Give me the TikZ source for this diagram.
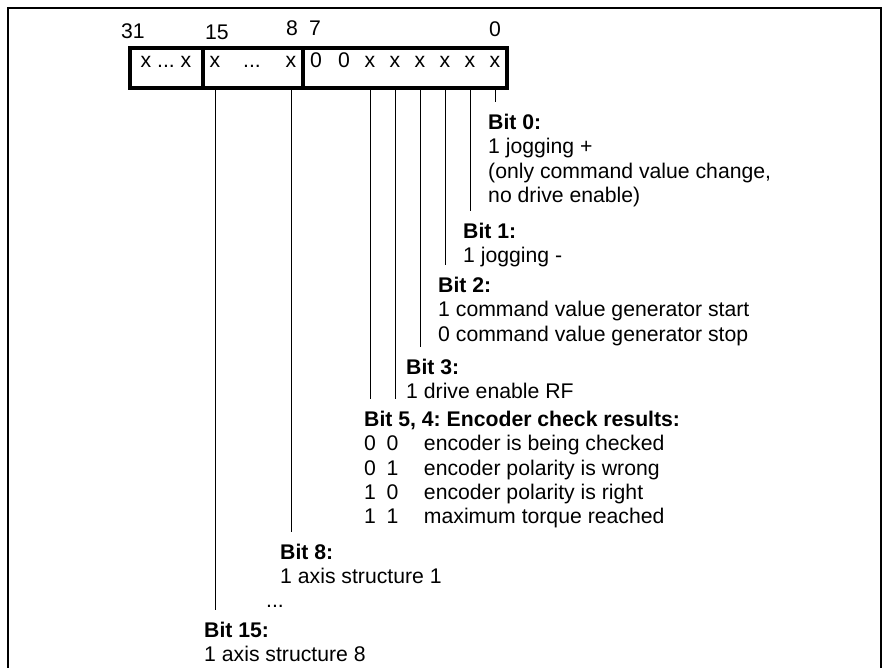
\documentclass[tikz,border=0pt]{standalone}
\usepackage{fontspec}
\setmainfont{Liberation Sans}
\usetikzlibrary{positioning}
\frenchspacing

\begin{document}
\begin{tikzpicture}[
  x=0.03cm, y=-0.03cm,
  every node/.style={font=\fontsize{18.1pt}{20.8pt}\selectfont},
  regcell/.style={draw, line width=2.6pt, rectangle, minimum height=1.2cm, inner sep=0pt},
  digit/.style={anchor=base, inner sep=0pt},
  bitlabel/.style={anchor=north west, align=left, inner xsep=0pt, inner ysep=10pt},
  leader/.style={line width=0.85pt}
]
\useasboundingbox (0,0) rectangle (882,668);

% ===== Outer frame (bottom edge lies below the page) =====
\draw[line width=2.2pt] (8,680) -- (8,8) -- (881,8) -- (881,680);

% ===== Register cells =====
\node[regcell, minimum width=2.19cm] (c31) at (166.5,68) {};
\node[regcell, minimum width=3.0cm] (c15) at (253,68) {};
\node[regcell, minimum width=6.12cm] (c7) at (405,68) {};

% Bit numbers above the cells
\node[digit] (n31) at (133,38) {31};
\node[digit] (n15) at (217,39.5) {15};
\node[digit] (n8) at (292,35) {8};
\node[digit] (n7) at (315,35) {7};
\node[digit] (n0) at (495,36) {0};

% Cell contents
\node[digit] (d31) at (166,67) {x ... x};
\node[digit] (d15) at (215,67) {x};
\node[digit] (dots15) at (252,67) {...};
\node[digit] (d8) at (291,67) {x};
\foreach \name/\x/\v in {d7/316/0, d6/344/0, d5/370/x, d4/395/x, d3/420/x, d2/445/x, d1/470/x, d0/495/x}
  \node[digit] (\name) at (\x,67) {\v};

% ===== Bit descriptions =====
\node[bitlabel] (l0) at (488,102) {\textbf{Bit 0:}\\1 jogging +\\(only command value change,\\no drive enable)};
\node[bitlabel] (l1) at (463,211) {\textbf{Bit 1:}\\1 jogging -};
\node[bitlabel] (l2) at (438,265) {\textbf{Bit 2:}\\1 command value generator start\\0 command value generator stop};
\node[bitlabel] (l3) at (406,347) {\textbf{Bit 3:}\\1 drive enable RF};
\node[bitlabel] (l54) at (364,399) {\textbf{Bit 5, 4: Encoder check results:}\\
  \makebox[51pt][l]{0\enspace0}encoder is being checked\\
  \makebox[51pt][l]{0\enspace1}encoder polarity is wrong\\
  \makebox[51pt][l]{1\enspace0}encoder polarity is right\\
  \makebox[51pt][l]{1\enspace1}maximum torque reached};
\node[bitlabel] (l8) at (280,532) {\textbf{Bit 8:}\\1 axis structure 1};
\node[digit] (more) at (275,607) {...};
\node[bitlabel] (l15) at (204,610) {\textbf{Bit 15:}\\1 axis structure 8};

% ===== Leader lines =====
\foreach \b/\c/\l in {d0/c7/l0, d1/c7/l1, d2/c7/l2, d3/c7/l3, d4/c7/l54, d5/c7/l54, d8/c15/l8, d15/c15/l15}
  \draw[leader] (\b |- \c.south) -- (\b |- \l.north);

\end{tikzpicture}
\end{document}
